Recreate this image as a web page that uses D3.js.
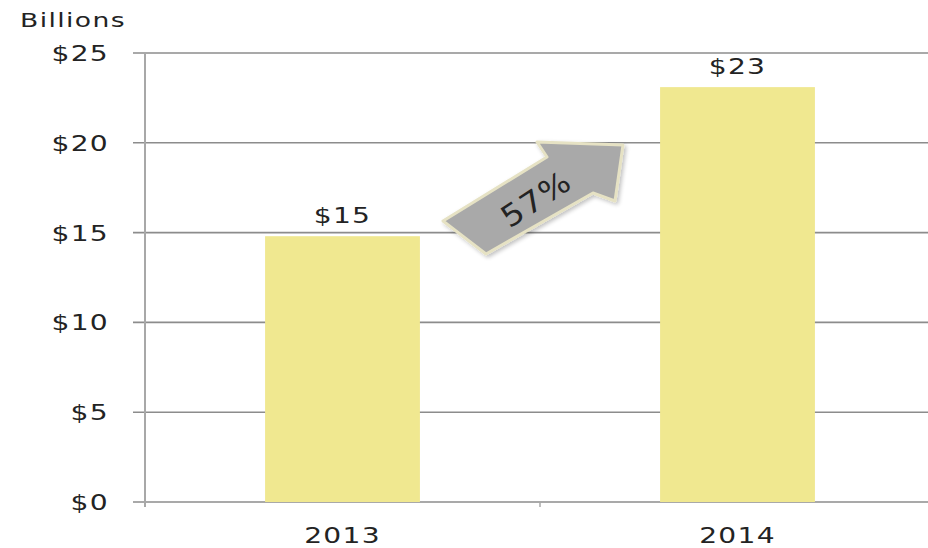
<!DOCTYPE html>
<html><head><meta charset="utf-8">
<script src="https://cdn.jsdelivr.net/npm/d3@7"></script>
<style>
body{margin:0;background:#fff;}
text{font-family:"DejaVu Sans",sans-serif;fill:#232323;}
</style></head>
<body><svg id="c" width="928" height="548"></svg>
<script>
const categories = ["2013","2014"];
const values = [14.8, 23.1];
const valueLabels = ["$15","$23"];
const yTicks = [0,5,10,15,20,25];
const yTickLabels = ["$0","$5","$10","$15","$20","$25"];
const growthLabel = "57%";

(function(){
const svg = d3.select("#c");
const pLeft = 145, pRight = 935, pTop = 53, pBottom = 502;
const SX = 1.28;
const x = d3.scaleBand().domain(categories).range([pLeft, pRight]).paddingInner(0.608).paddingOuter(0.304);
const xEdges = d3.scaleBand().domain(categories).range([pLeft, pRight]).padding(0);
const y = d3.scaleLinear().domain([0,25]).range([pBottom, pTop]);

// gridlines
svg.append("g").selectAll("line").data(yTicks).join("line")
  .attr("x1", 133).attr("x2", 928)
  .attr("y1", d=>y(d)).attr("y2", d=>y(d))
  .attr("stroke", "#8c8c8c").attr("stroke-width", 1.6);

// y axis line
svg.append("line").attr("x1", pLeft).attr("x2", pLeft).attr("y1", y(25)).attr("y2", pBottom+5)
  .attr("stroke", "#a8a8a8").attr("stroke-width", 2);

// x ticks
svg.append("g").selectAll("line").data(categories).join("line")
  .attr("x1", d=>xEdges(d)).attr("x2", d=>xEdges(d))
  .attr("y1", pBottom).attr("y2", pBottom+5)
  .attr("stroke", "#a8a8a8").attr("stroke-width", 1.5);

function stretched(sel, fs, ls){
  return sel.attr("font-size", fs).attr("letter-spacing", ls);
}

// y labels
stretched(svg.append("g").selectAll("text").data(yTicks).join("text")
  .attr("transform", d=>`translate(109,${y(d)}) scale(${SX},1)`).attr("dy","0.36em")
  .attr("text-anchor","end"), 22, 1)
  .text((d,i)=>yTickLabels[i]);

stretched(svg.append("text").attr("transform", `translate(20,27) scale(1.4,1)`), 19, 1).text("Billions");

// bars
svg.append("g").selectAll("rect").data(values).join("rect")
  .attr("x", (d,i)=>x(categories[i])).attr("width", x.bandwidth())
  .attr("y", d=>y(d)).attr("height", d=>pBottom - y(d))
  .attr("fill", "#f0e890");

// value labels
stretched(svg.append("g").selectAll("text").data(values).join("text")
  .attr("transform", (d,i)=>`translate(${x(categories[i]) + x.bandwidth()/2},${y(d) - 13}) scale(${SX},1)`)
  .attr("text-anchor","middle"), 22, 1)
  .text((d,i)=>valueLabels[i]);

// x labels
stretched(svg.append("g").selectAll("text").data(categories).join("text")
  .attr("transform", d=>`translate(${x(d) + x.bandwidth()/2},543) scale(${SX},1)`)
  .attr("text-anchor","middle"), 22, 1).text(d=>d);

// growth arrow annotation
const defs = svg.append("defs");
const f = defs.append("filter").attr("id","sh").attr("x","-20%").attr("y","-20%").attr("width","140%").attr("height","140%");
f.append("feGaussianBlur").attr("in","SourceAlpha").attr("stdDeviation",2).attr("result","b");
f.append("feOffset").attr("in","b").attr("dx",2).attr("dy",2).attr("result","o");
f.append("feComponentTransfer").attr("in","o").attr("result","o2").append("feFuncA").attr("type","linear").attr("slope",0.25);
const m = f.append("feMerge"); m.append("feMergeNode").attr("in","o2"); m.append("feMergeNode").attr("in","SourceGraphic");
const arrowPts = [[443,221],[547,157],[537,142],[623,145],[615,201],[593,193],[486,254]];
svg.append("path").attr("d", d3.line()(arrowPts) + "Z")
  .attr("fill", "#a9a9a9").attr("stroke", "#e6e2c4").attr("stroke-width", 3)
  .attr("stroke-linejoin","round").attr("filter","url(#sh)");
svg.append("text").attr("transform","translate(536,199) rotate(-33) scale(1.1,1)")
  .attr("text-anchor","middle").attr("font-size", 30).attr("letter-spacing", 1).attr("fill","#1e1e1e")
  .attr("dy","0.35em").text(growthLabel);
})();
</script></body></html>
